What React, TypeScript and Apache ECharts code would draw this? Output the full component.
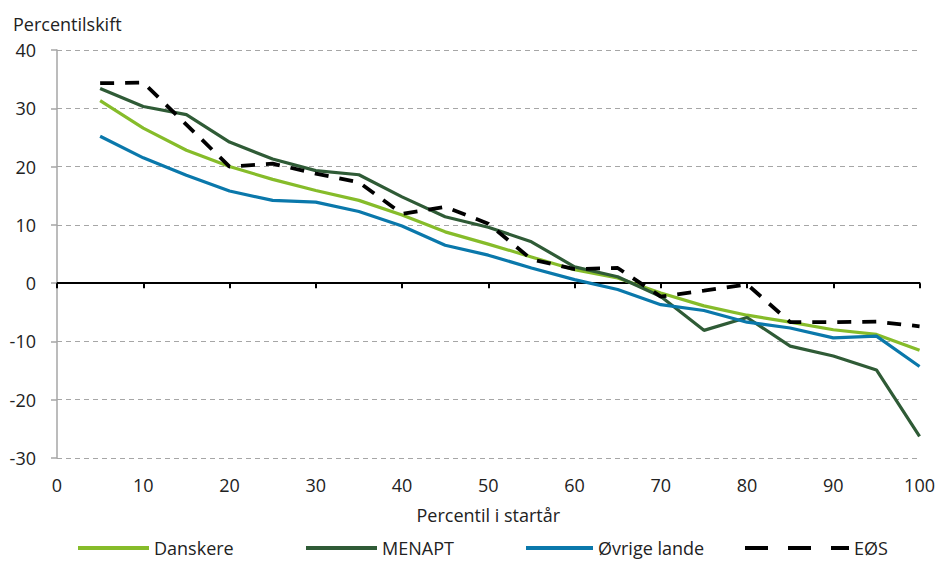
import React, { useEffect, useRef } from "react";
import * as echarts from "echarts";

const percentiles = [5, 10, 15, 20, 25, 30, 35, 40, 45, 50, 55, 60, 65, 70, 75, 80, 85, 90, 95, 100];
const danskere = [31.3, 26.6, 22.8, 20.0, 17.8, 15.9, 14.2, 11.7, 8.8, 6.7, 4.5, 2.3, 0.9, -1.7, -3.9, -5.5, -6.7, -8.0, -8.8, -11.5];
const menapt = [33.4, 30.3, 28.9, 24.2, 21.3, 19.3, 18.6, 14.8, 11.4, 9.6, 7.1, 2.8, 1.1, -2.3, -8.1, -5.9, -10.8, -12.5, -14.9, -26.3];
const ovrige = [25.2, 21.5, 18.5, 15.8, 14.2, 13.9, 12.3, 9.8, 6.5, 4.8, 2.6, 0.6, -1.1, -3.7, -4.7, -6.7, -7.7, -9.4, -9.1, -14.3];
const eos = [34.3, 34.4, 27.2, 20.0, 20.5, 18.8, 17.3, 11.9, 13.1, 10.2, 4.1, 2.4, 2.6, -2.3, -1.3, -0.2, -6.7, -6.7, -6.6, -7.4];

const xTicks = { min: 0, max: 100, interval: 10 };
const yTicks = { min: -30, max: 40, interval: 10 };

const FONT = "Open Sans";
const TEXT = "#222222";
const FS = 18;

export default function App() {
  const ref = useRef<HTMLDivElement>(null);
  useEffect(() => {
    document.body.style.margin = "0";
    const chart = echarts.init(ref.current!, undefined, { renderer: "svg" });
    const pairs = (vals: number[]) => percentiles.map((p, i) => [p, vals[i]]);
    const seriesDefs = [
      { name: "Danskere", data: danskere, color: "#86bc2a", type: "solid", width: 3.2 },
      { name: "MENAPT", data: menapt, color: "#2f5b36", type: "solid", width: 3.2 },
      { name: "Øvrige lande", data: ovrige, color: "#0a78ab", type: "solid", width: 3.2 },
      { name: "EØS", data: eos, color: "#000000", type: [14, 11], width: 3.8 },
    ];
    const legendLefts = [76, 304, 524, 743];
    const legendWidths = [71, 71, 67, 104];
    chart.setOption({
      animation: false,
      textStyle: { fontFamily: FONT },
      title: {
        text: "Percentilskift",
        left: 13,
        top: 15,
        padding: 0,
        textStyle: { fontFamily: FONT, fontSize: FS, fontWeight: "normal", color: TEXT },
      },
      grid: { left: 57, right: 17, top: 50, bottom: 103, containLabel: false },
      legend: seriesDefs.map((s, i) => ({
        data: [s.name],
        left: legendLefts[i],
        top: 539,
        padding: 0,
        itemWidth: legendWidths[i],
        itemHeight: 16,
        itemGap: 6,
        itemStyle: { opacity: 0 },
        lineStyle: i === 3 ? { type: [23, 20], width: 4 } : { width: 4 },
        textStyle: { fontFamily: FONT, fontSize: FS, color: TEXT, lineHeight: 18 },
      })),
      xAxis: [
        {
          type: "value",
          ...xTicks,
          position: "bottom",
          axisLine: { show: false, onZero: false },
          axisTick: { show: false },
          splitLine: { show: false },
          axisLabel: { margin: 18, fontSize: FS, color: TEXT, fontFamily: FONT },
          name: "Percentil i startår",
          nameLocation: "middle",
          nameGap: 48,
          nameTextStyle: { fontSize: FS, color: TEXT, fontFamily: FONT },
        },
        {
          type: "value",
          ...xTicks,
          position: "bottom",
          axisLine: { show: true, onZero: true, lineStyle: { color: "#000", width: 2 } },
          axisTick: { show: true, length: 5, lineStyle: { color: "#000", width: 2 } },
          axisLabel: { show: false },
          splitLine: { show: false },
        },
      ],
      yAxis: {
        type: "value",
        ...yTicks,
        axisLine: { show: true, onZero: false, lineStyle: { color: "#a6a6a6", width: 1.5 } },
        axisTick: { show: true, length: 6, lineStyle: { color: "#a6a6a6", width: 1.5 } },
        axisLabel: { margin: 21, fontSize: FS, color: TEXT, fontFamily: FONT },
        splitLine: { show: true, lineStyle: { color: "#a6a6a6", type: [5, 4], width: 1.2 } },
      },
      series: seriesDefs.map((s) => ({
        name: s.name,
        type: "line",
        xAxisIndex: 0,
        data: pairs(s.data),
        symbol: "none",
        showSymbol: false,
        color: s.color,
        lineStyle: { color: s.color, width: s.width, type: s.type, cap: "butt" },
        emphasis: { disabled: true },
      })),
    });
    return () => chart.dispose();
  }, []);
  return <div ref={ref} style={{ width: 938, height: 561 }} />;
}
